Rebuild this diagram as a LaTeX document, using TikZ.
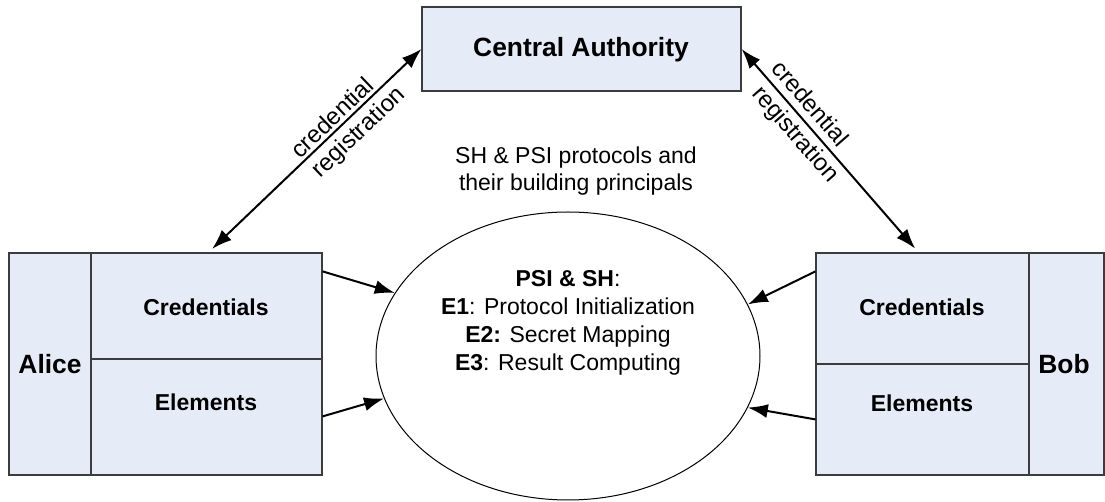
\documentclass[tikz,border=0pt]{standalone}
\usepackage{fontspec}
\setmainfont{Liberation Sans}
\usetikzlibrary{shapes.geometric,arrows.meta,fit}
\definecolor{boxfill}{RGB}{230,236,247}
\definecolor{boxline}{RGB}{60,60,60}
\begin{document}
\begin{tikzpicture}[x=0.5pt,y=-0.5pt,
  box/.style={draw=boxline, fill=boxfill, line width=0.6pt, inner sep=0pt},
  title/.style={font=\bfseries\fontsize{13.2}{16}\selectfont, inner sep=0pt},
  part/.style={font=\bfseries\fontsize{11.5}{14}\selectfont, inner sep=0pt},
  body/.style={font=\fontsize{11.5}{14}\selectfont, align=center, inner sep=0pt},
  tag/.style={font=\fontsize{12}{14}\selectfont, sloped},
  link/.style={line width=1pt, -{Latex[length=10pt,width=7pt]}},
  dlink/.style={line width=1pt, {Latex[length=10pt,width=7pt]}-{Latex[length=10pt,width=7pt]}},
]
\useasboundingbox (0,0) rectangle (1105,502);

% central authority
\node[box, fit={(422,7)(741,91)}] (ca) {};
\node[title] (catext) at (581,50) {Central Authority};

% Alice side
\node[box, fit={(9,253)(91,475)}] (alice) {};
\node[box, fit={(91,253)(322,359)}] (acred) {};
\node[box, fit={(91,359)(322,475)}] (aelem) {};
\node[title] (alicetext) at (50,364) {Alice};
\node[part] (acredtext) at (206,307) {Credentials};
\node[part] (aelemtext) at (206,402) {Elements};

% Bob side
\node[box, fit={(816,253)(1029,364)}] (bcred) {};
\node[box, fit={(816,364)(1029,475)}] (belem) {};
\node[box, fit={(1029,253)(1104,475)}] (bob) {};
\node[title] (bobtext) at (1064,364) {Bob};
\node[part] (bcredtext) at (922,307) {Credentials};
\node[part] (belemtext) at (922,403) {Elements};

% protocol ellipse
\node[ellipse, draw, line width=0.5pt, minimum width=192pt, minimum height=144pt, inner sep=0pt] (ell) at (568,356) {};
\node[body] (elltext) at (568,323) {\textbf{PSI \& SH}:\\
  \textbf{E1}: Protocol Initialization\\
  \textbf{E2:} Secret Mapping\\
  \textbf{E3}: Result Computing};
\node[body, font=\fontsize{11.5}{13.5}\selectfont] (note) at (576,171.5) {SH \& PSI protocols and\\their building principals};

% registration links
\draw[dlink, shorten <=2.5pt] ([xshift=1pt]acred.north) -- (ca.west)
  node[tag, pos=0.62, above, inner sep=1.4pt] (lc1) {credential}
  node[tag, pos=0.65, below, inner sep=2.8pt] (lr1) {registration};
\draw[dlink, shorten >=2.5pt] (ca.east) -- ([xshift=-2pt]bcred.north)
  node[tag, pos=0.32, above, inner sep=3.4pt] (lc2) {credential}
  node[tag, pos=0.37, below, inner sep=2pt] (lr2) {registration};

% inputs to the protocol
\draw[link] ([yshift=-9.5pt]acred.north east) -- (ell.160.8);
\draw[link] ([yshift=-29pt]aelem.north east) -- (ell.193.1);
\draw[link] ([yshift=-9.5pt]bcred.north west) -- (ell.16.8);
\draw[link] ([yshift=-28pt]belem.north west) -- (ell.344.9);
\end{tikzpicture}
\end{document}
